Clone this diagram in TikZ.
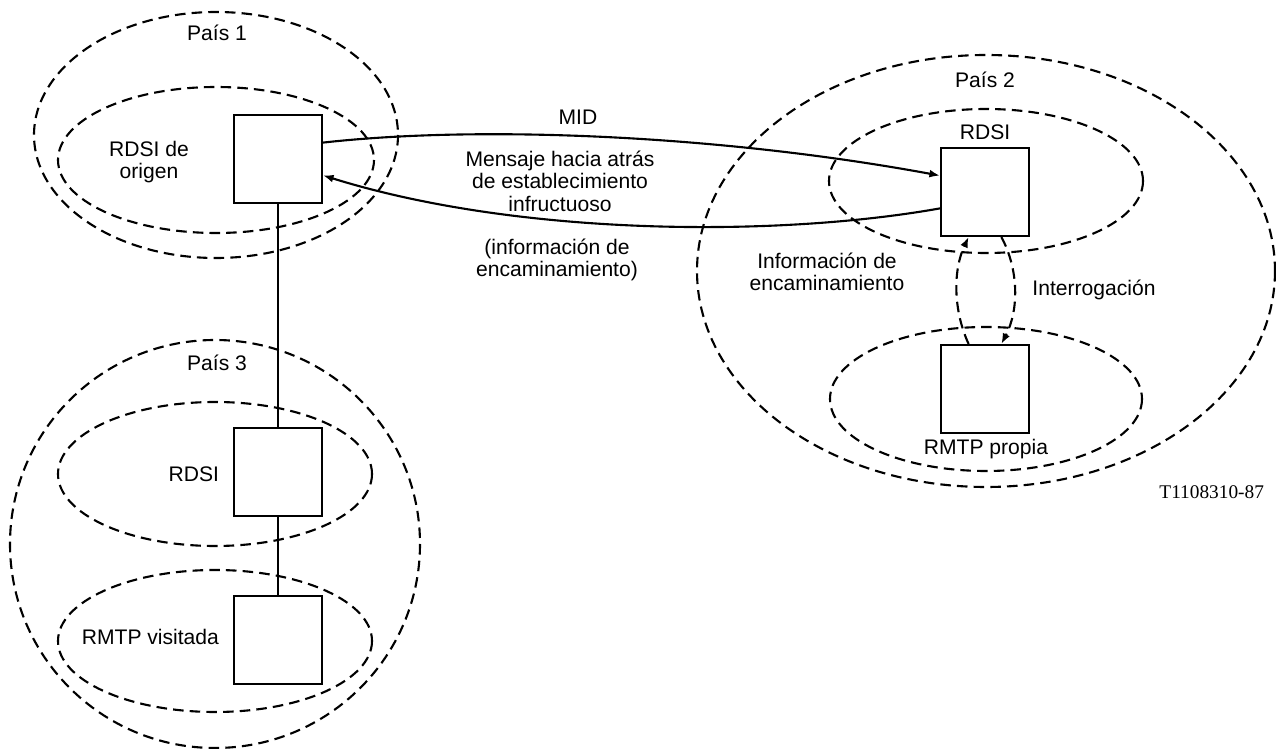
\documentclass[tikz,border=0pt]{standalone}
\usepackage{fontspec}
\setmainfont{Liberation Sans}
\newfontfamily\codefont{Liberation Serif}
\usetikzlibrary{arrows.meta,positioning}

\begin{document}
\begin{tikzpicture}[x=0.02cm,y=-0.02cm,line width=1.2pt,
    font=\fontsize{12}{12.8}\selectfont,
    exch/.style={draw,minimum width=1.76cm,minimum height=1.76cm,inner sep=0pt},
    zone/.style={dash pattern=on 6pt off 3.5pt},
    txt/.style={align=center,inner sep=0pt},
    tip/.style={-{Latex[length=6pt,width=4.5pt]}}]
    \useasboundingbox (0,0) rectangle (1276,749);

    % Country 1: origin network
    \draw[zone] (216,135) ellipse (182 and 123);
    \draw[zone] (216,160) ellipse (158 and 73);
    \node[txt] (p1) at (217,33) {País 1};
    \node[txt] (origlbl) at (149,162) {RDSI de\\origen};
    \node[exch] (orig) at (278,159) {};

    % Country 3: visited network
    \draw[zone] (215,544) ellipse (205 and 204);
    \draw[zone] (215,474) ellipse (157 and 72);
    \draw[zone] (215,641) ellipse (157 and 71);
    \node[txt] (p3) at (217,363) {País 3};
    \node[exch] (rdsiC) at (278,472) {};
    \node[exch] (vis) at (278,640) {};
    \node[txt,anchor=east] (rdsiClbl) at (220,474) {RDSI};
    \node[txt,anchor=east] (vislbl) at (220,637) {RMTP visitada};

    % Country 2: home network
    \draw[zone] (986,271) ellipse (289 and 216);
    \draw[zone] (986,181) ellipse (157 and 72);
    \draw[zone] (986,399) ellipse (156 and 72);
    \node[txt] (p2) at (985,80) {País 2};
    \node[exch] (rdsiB) at (985,192) {};
    \node[exch] (own) at (985,389) {};
    \node[txt,above=0.12cm of rdsiB] (rdsiBlbl) {RDSI};
    \node[txt] (ownlbl) at (986,449) {RMTP propia};

    % Links between the countries
    \draw (orig) -- (rdsiC);
    \draw (rdsiC) -- (vis);
    \draw[tip] (orig.20) .. controls (480,125) and (720,135) .. (rdsiB.160);
    \draw[tip] (rdsiB.200) .. controls (780,237) and (520,237) .. (orig.340);
    \node[txt] (mid) at (578,117) {MID};
    \node[txt] (msg) at (560,181) {Mensaje hacia atrás\\de establecimiento\\infructuoso};
    \node[txt] (route) at (557,260) {(información de\\encaminamiento)};

    % Interrogation inside country 2
    \draw[zone,tip] (own.110) .. controls (953,310) and (953,270) .. (rdsiB.250);
    \draw[zone,tip] (rdsiB.290) .. controls (1019,270) and (1019,310) .. (own.70);
    \node[txt] (routeB) at (827,272) {Información de\\encaminamiento};
    \node[txt] (ask) at (1094,290) {Interrogación};

    % Figure code
    \node[txt,anchor=east,font=\codefont\fontsize{11}{13}\selectfont] (code) at (1265,492) {T1108310-87};
\end{tikzpicture}
\end{document}
